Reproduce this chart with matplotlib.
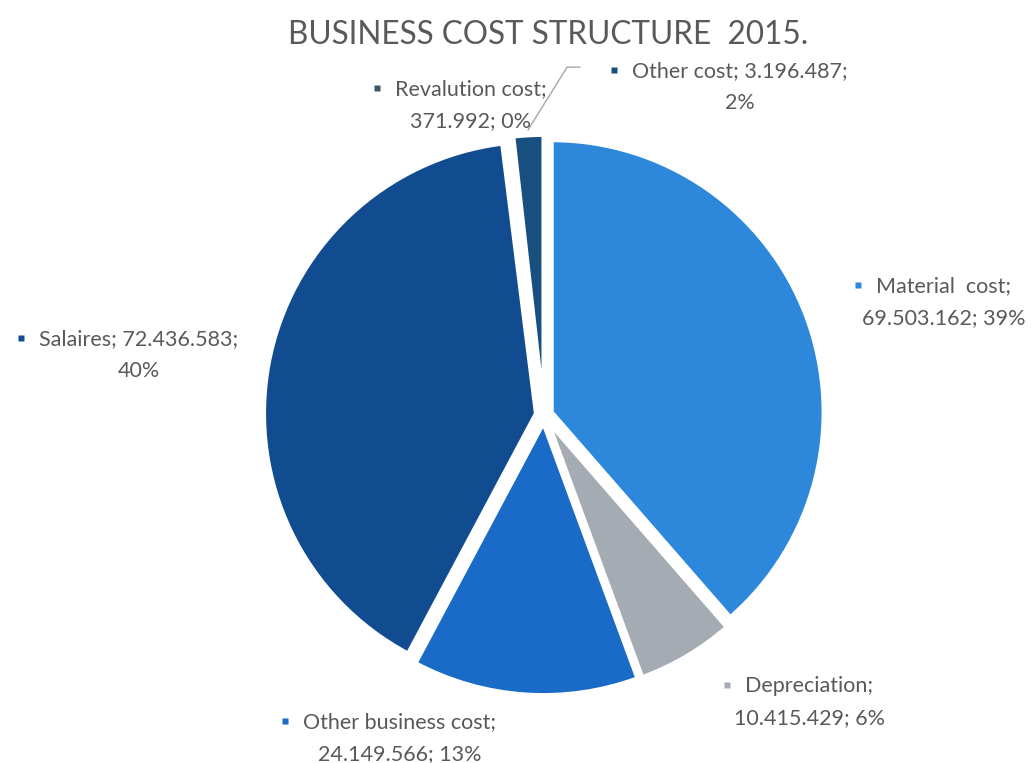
import numpy as np
import matplotlib.pyplot as plt
from matplotlib.offsetbox import TextArea, VPacker, AnnotationBbox

plt.rcParams['font.family'] = ['Lato', 'DejaVu Sans']

names = ['Material  cost', 'Depreciation', 'Other business cost', 'Salaires',
         'Revalution cost', 'Other cost']
values = [69503162, 10415429, 24149566, 72436583, 371992, 3196487]
colors = ['#2D88DC', '#A4ABB2', '#1A6BC8', '#124C90', '#3F5868', '#17507F']
# where each data label block sits (pie radius = 1)
label_pos = [(1.47, 0.415), (0.975, -1.055), (-0.53, -1.188),
             (-1.49, 0.221), (-0.27, 1.139), (0.72, 1.206)]
# how the "name; value;" / "pct" text is split over two lines
split_after = ['name', 'name', 'name', 'value', 'name', 'value']

TXT = '#595959'
R = 272.0
cx, cy = 544.0, 415.0
W, H = 1033, 763

fig = plt.figure(figsize=(W / 100, H / 100), dpi=100)
ax = fig.add_axes([0, 0, 1, 1])

wedges, _ = ax.pie(values, colors=colors, startangle=90, counterclock=False,
                   explode=[0.03] * len(values), radius=1.0,
                   wedgeprops=dict(edgecolor='white', linewidth=3))

ax.set_xlim(-cx / R, (W - cx) / R)
ax.set_ylim(-(H - cy) / R, cy / R)
ax.set_aspect('auto')
ax.axis('off')


def fmt(v):
    return '{:,}'.format(v).replace(',', '.')


total = sum(values)
first_lines = []
for name, v, c, pos, how in zip(names, values, colors, label_pos, split_after):
    pct = '{:.0f}%'.format(100 * v / total)
    if how == 'name':
        l1, l2 = name + ';', fmt(v) + '; ' + pct
    else:
        l1, l2 = name + '; ' + fmt(v) + ';', pct
    t1 = TextArea(l1, textprops=dict(color=TXT, fontsize=15.5))
    t2 = TextArea(l2, textprops=dict(color=TXT, fontsize=15.5))
    box = VPacker(children=[t1, t2], align='center', pad=0, sep=9)
    ab = AnnotationBbox(box, pos, frameon=False, box_alignment=(0.5, 0.5))
    ax.add_artist(ab)
    first_lines.append((t1, c))

# legend-key squares go just left of each label's first line
fig.canvas.draw()
renderer = fig.canvas.get_renderer()
inv = ax.transData.inverted()
for t1, c in first_lines:
    bb = t1.get_window_extent(renderer)
    x, y = inv.transform((bb.x0 - 18, (bb.y0 + bb.y1) / 2 + 1))
    ax.plot(x, y, marker='s', ms=5, color=c, mec='none', clip_on=False)

# leader line for the small "Other cost" slice
w = wedges[5]
mid = np.deg2rad((w.theta1 + w.theta2) / 2)
p0 = (1.05 * np.cos(mid), 1.05 * np.sin(mid))
ax.plot([p0[0], 0.085, 0.132], [p0[1], 1.279, 1.279], color='#A6A6A6', lw=1)

fig.text(548 / W, 1 - 35 / H, 'BUSINESS COST STRUCTURE  2015.', ha='center',
         va='center', fontsize=22.7, color=TXT)

fig.savefig('out.png', dpi=100)
